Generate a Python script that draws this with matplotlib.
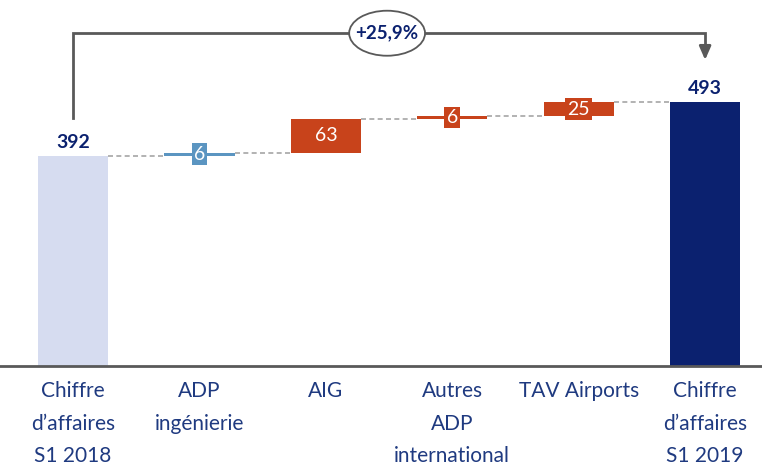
import matplotlib.pyplot as plt
from matplotlib.patches import Ellipse

# Data
categories = ["Chiffre\nd\u2019affaires\nS1 2018", "ADP\ningénierie", "AIG",
              "Autres\nADP\ninternational", "TAV Airports", "Chiffre\nd\u2019affaires\nS1 2019"]
start_total = 392
deltas = [6, 63, 6, 25]
end_total = 493
growth_label = "+25,9%"

navy = "#0B216F"
light = "#D6DCF0"
blue = "#5B95C1"
orange = "#C8431B"
grey_line = "#A6A6A6"
text_blue = "#1F3A80"

fig = plt.figure(figsize=(7.62, 4.67), dpi=100)
ax = fig.add_axes([0, 101 / 467, 1, 366 / 467])
ax.set_xlim(-0.578, 5.45)
ax.set_ylim(0, 683)

width = 0.555
font = "Lato"

# totals
ax.bar(0, start_total, width, color=light)
ax.bar(5, end_total, width, color=navy)
ax.text(0, start_total + 9, str(start_total), ha="center", va="bottom",
        fontsize=14, fontweight="bold", color=navy, family=font)
ax.text(5, end_total + 9, str(end_total), ha="center", va="bottom",
        fontsize=14, fontweight="bold", color=navy, family=font)

# steps
level = start_total
colors = [blue, orange, orange, orange]
tops = [start_total]
for i, (d, c) in enumerate(zip(deltas, colors)):
    x = i + 1
    ax.bar(x, d, width, bottom=level, color=c)
    ax.text(x, level + d / 2, str(d), ha="center", va="center", fontsize=14,
            color="white", family=font,
            bbox=dict(facecolor=c, edgecolor="none", boxstyle="square,pad=0.12"))
    level += d
    tops.append(level)
tops.append(end_total)

# dashed connectors
for i in range(5):
    y = tops[i]
    ax.plot([i + width / 2, i + 1 - width / 2], [y, y], color=grey_line,
            linestyle=(0, (3, 2)), linewidth=1.2, zorder=1)

# bracket + arrow
y_top = 621
ax.plot([0, 0, 5, 5], [463, y_top, y_top, 590], color="#595959", linewidth=2,
        solid_joinstyle="miter", zorder=2)
ax.annotate("", xy=(5, 566), xytext=(5, 592),
            arrowprops=dict(arrowstyle="-|>,head_width=0.35,head_length=0.8",
                            color="#595959", linewidth=2))
ell_x = (387 - 73) / 126.4
ax.add_patch(Ellipse((ell_x, y_top), 0.6, 84, facecolor="white",
                     edgecolor="#595959", linewidth=1.3, zorder=3))
ax.text(ell_x, y_top, growth_label, ha="center", va="center", fontsize=13.5,
        fontweight="bold", color=navy, family=font, zorder=4)

# axes styling
for s in ["top", "right", "left"]:
    ax.spines[s].set_visible(False)
ax.spines["bottom"].set_color("#595959")
ax.spines["bottom"].set_linewidth(2)
ax.set_yticks([])
ax.set_xticks(range(6))
ax.set_xticklabels(categories, fontsize=15, color=text_blue, family=font,
                   linespacing=1.78)
ax.tick_params(axis="x", length=0, pad=11)

fig.savefig("out.png", dpi=100)
